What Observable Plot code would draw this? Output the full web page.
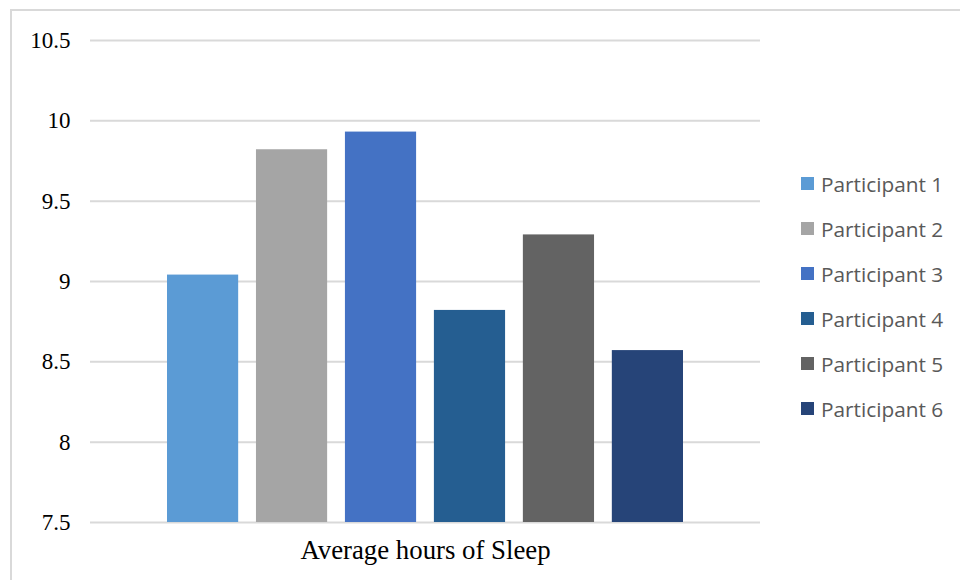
<!DOCTYPE html>
<html>
<head>
<meta charset="utf-8">
<script src="https://cdn.jsdelivr.net/npm/d3@7"></script>
<script src="https://cdn.jsdelivr.net/npm/@observablehq/plot@0.6"></script>
<style>
  html, body { margin: 0; padding: 0; background: #fff; }
  #wrap { position: relative; width: 960px; height: 580px; overflow: hidden; }
  #frame { position: absolute; left: 10px; top: 9px; width: 1000px; height: 600px;
           border-top: 2px solid #d9d9d9; border-left: 2px solid #d9d9d9; pointer-events: none; }
  #chart { position: absolute; left: 0; top: 0; }
  #legend { position: absolute; left: 801px; top: 161px; font-family: "Open Sans", sans-serif;
            font-size: 20.8px; color: #595959; }
  #legend .item { height: 45px; display: flex; align-items: center; }
  #legend .sw { width: 13px; height: 13px; margin-right: 7px; flex: none; }
</style>
</head>
<body>
<div id="wrap">
  <div id="chart"></div>
  <div id="frame"></div>
  <div id="legend"></div>
</div>
<script>
const participants = ["Participant 1", "Participant 2", "Participant 3", "Participant 4", "Participant 5", "Participant 6"];
const sleepHours = [9.04, 9.82, 9.93, 8.82, 9.29, 8.57];
const colors = ["#5B9BD5", "#A5A5A5", "#4472C4", "#255E91", "#636363", "#264478"];
const yTicks = [7.5, 8, 8.5, 9, 9.5, 10, 10.5];
const yTickLabels = ["7.5", "8", "8.5", "9", "9.5", "10", "10.5"];
const categoryLabel = "Average hours of Sleep";
const yMin = 7.5, yMax = 10.5;

const data = participants.map((p, i) => ({participant: p, hours: sleepHours[i]}));

const chart = Plot.plot({
  width: 960,
  height: 580,
  marginLeft: 90,
  marginRight: 200,
  marginTop: 40,
  marginBottom: 58,
  style: {background: "transparent", overflow: "visible"},
  x: {domain: participants, range: [167, 683], paddingInner: 0.2, paddingOuter: 0, round: false, axis: null},
  y: {domain: [yMin, yMax]},
  color: {domain: participants, range: colors},
  marks: [
    Plot.ruleY(yTicks, {stroke: "#d9d9d9", strokeWidth: 2}),
    Plot.barY(data, {x: "participant", y1: yMin, y2: "hours", fill: "participant"}),
    Plot.axisY({
      ticks: yTicks,
      tickSize: 0,
      tickPadding: 20,
      tickFormat: d => yTickLabels[yTicks.indexOf(d)],
      label: null,
      fontSize: 23,
      fontFamily: "Liberation Serif",
      fill: "#000"
    }),
    Plot.text([categoryLabel], {
      text: d => d,
      frameAnchor: "bottom",
      dy: 36,
      fontSize: 26.8,
      fontFamily: "Liberation Serif",
      fill: "#000"
    })
  ]
});
chart.setAttribute("font-family", "Liberation Serif");
document.getElementById("chart").appendChild(chart);

const legend = d3.select("#legend");
participants.forEach((p, i) => {
  const item = legend.append("div").attr("class", "item");
  item.append("div").attr("class", "sw").style("background", colors[i]);
  item.append("span").text(p);
});
</script>
</body>
</html>
